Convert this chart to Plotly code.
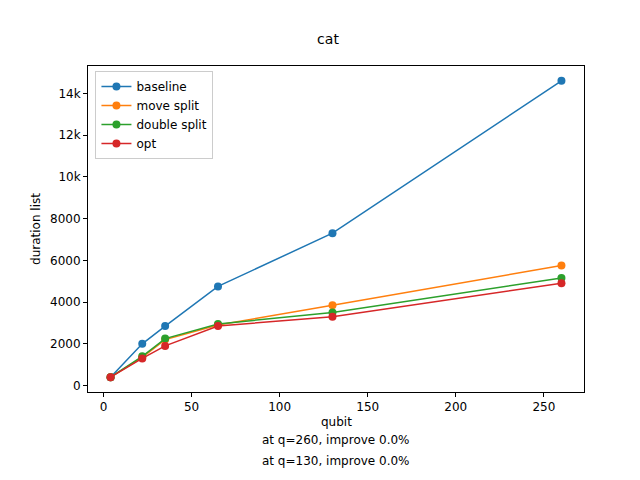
import plotly.graph_objects as go

qubits = [4, 22, 35, 65, 130, 260]
baseline = [400, 2000, 2850, 4750, 7300, 14600]
move_split = [400, 1350, 2200, 2900, 3850, 5750]
double_split = [400, 1400, 2250, 2950, 3500, 5150]
opt = [400, 1300, 1900, 2850, 3300, 4900]
names = ["baseline", "move split", "double split", "opt"]
colors = ["#1f77b4", "#ff7f0e", "#2ca02c", "#d62728"]
notes = ["at q=260, improve 0.0%", "at q=130, improve 0.0%"]

fig = go.Figure()
for n, ys, c in zip(names, [baseline, move_split, double_split, opt], colors):
    fig.add_trace(go.Scatter(x=qubits, y=ys, name=n, mode="lines+markers",
                             line=dict(color=c, width=1.5), marker=dict(color=c, size=8)))

axis = dict(showgrid=False, zeroline=False, showline=True, linecolor="black", mirror=True,
            ticks="outside", ticklen=4, tickcolor="black", tickfont=dict(size=12, color="black"))
fig.update_layout(
    width=640, height=480, plot_bgcolor="white", paper_bgcolor="white",
    margin=dict(l=80, r=64, t=58, b=96),
    font=dict(family="DejaVu Sans", color="black"),
    title=dict(text="cat", x=0.5, xanchor="center", y=0.925, yanchor="bottom", font=dict(size=14)),
    xaxis=dict(axis, range=[-8.8, 272.8], tickvals=[0, 50, 100, 150, 200, 250]),
    yaxis=dict(axis, range=[-310, 15310], tickvals=list(range(0, 15000, 2000)),
               title=dict(text="duration list", font=dict(size=12), standoff=6)),
    legend=dict(x=0.015, y=0.985, xanchor="left", yanchor="top", bordercolor="#ccc", borderwidth=1,
                bgcolor="rgba(255,255,255,0.8)", font=dict(size=12)),
)
fig.add_annotation(text="qubit", x=0.5, y=-0.065, xref="paper", yref="paper", showarrow=False,
                   yanchor="top", font=dict(size=12))
for i, t in enumerate(notes):
    fig.add_annotation(text=t, x=0.5, y=-0.12 - 0.065 * i, xref="paper", yref="paper",
                       showarrow=False, yanchor="top", font=dict(size=12))
fig.write_html("out.html")
